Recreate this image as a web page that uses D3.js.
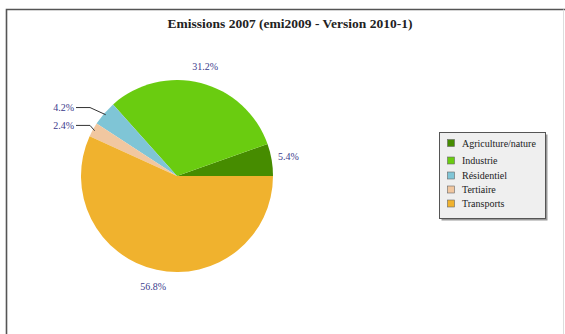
<!DOCTYPE html>
<html>
<head>
<meta charset="utf-8">
<script src="https://cdn.jsdelivr.net/npm/d3@7"></script>
<style>
  html, body { margin: 0; padding: 0; background: #fff; }
  svg { display: block; }
</style>
</head>
<body>
<svg id="chart" width="565" height="334"></svg>
<script>
// Emission shares by sector, 2007
const categories = ["Agriculture/nature", "Industrie", "Résidentiel", "Tertiaire", "Transports"];
const shares = [5.4, 31.2, 4.2, 2.4, 56.8];
const colors = ["#468c00", "#6acc10", "#7fc5d6", "#f1c7a0", "#f0b22e"];
const titleText = "Emissions 2007 (emi2009 - Version 2010-1)";

const svg = d3.select("#chart");
const W = 565, H = 334;
const cx = 177, cy = 176, r = 96;
const serif = "'Liberation Serif', 'DejaVu Serif', serif";

// outer frame
svg.append("path")
  .attr("d", `M6.5,${H} L6.5,9.5 L${W},9.5`)
  .attr("fill", "none").attr("stroke", "#555").attr("stroke-width", 1.6);
svg.append("line")
  .attr("x1", 563.5).attr("x2", 563.5).attr("y1", 9.5).attr("y2", H)
  .attr("stroke", "#ddd").attr("stroke-width", 1);

// title
svg.append("text")
  .attr("x", 290).attr("y", 28)
  .attr("text-anchor", "middle")
  .attr("font-family", serif).attr("font-weight", "bold").attr("font-size", 13.5)
  .attr("fill", "#222")
  .text(titleText);

// pie: starts at 3 o'clock and runs counter-clockwise
const data = categories.map((c, i) => ({ name: c, value: shares[i], color: colors[i] }));
const pie = d3.pie().value(d => d.value).sort(null)
  .startAngle(Math.PI / 2).endAngle(Math.PI / 2 - 2 * Math.PI);
const arcs = pie(data);
const arc = d3.arc().innerRadius(0).outerRadius(r);

const g = svg.append("g").attr("transform", `translate(${cx},${cy})`);
g.selectAll("path.slice").data(arcs).join("path")
  .attr("class", "slice")
  .attr("d", arc)
  .attr("fill", d => d.data.color);

// labels
const fmt = v => v.toFixed(1) + "%";
const labelColor = "#3a3a8c";
const small = new Set(["Résidentiel", "Tertiaire"]);
arcs.forEach(a => {
  const mid = (a.startAngle + a.endAngle) / 2;
  const pt = rad => [Math.sin(mid) * rad, -Math.cos(mid) * rad];
  if (!small.has(a.data.name)) {
    const [x, y] = pt(r + 17);
    g.append("text")
      .attr("x", x).attr("y", y).attr("dy", "0.35em")
      .attr("text-anchor", "middle")
      .attr("font-family", serif).attr("font-size", 10)
      .attr("fill", labelColor)
      .text(fmt(a.data.value));
  } else {
    const p0 = pt(r - 2);
    const p1 = pt(r + 9);
    const endX = -r - 5;
    const elbow = [endX + 14, p1[1]];
    g.append("polyline")
      .attr("points", [p0, elbow, [endX, p1[1]]].map(p => p.join(",")).join(" "))
      .attr("fill", "none").attr("stroke", "#333").attr("stroke-width", 1);
    g.append("text")
      .attr("x", endX - 2).attr("y", p1[1]).attr("dy", "0.35em")
      .attr("text-anchor", "end")
      .attr("font-family", serif).attr("font-size", 10)
      .attr("fill", labelColor)
      .text(fmt(a.data.value));
  }
});

// legend
const lx = 439.5, ly = 132.5, lw = 106, lh = 86;
svg.append("rect")
  .attr("x", lx + 2).attr("y", ly + 2).attr("width", lw).attr("height", lh)
  .attr("fill", "#999");
svg.append("rect")
  .attr("x", lx).attr("y", ly).attr("width", lw).attr("height", lh)
  .attr("fill", "#efefef").attr("stroke", "#555").attr("stroke-width", 1);
const rowY = [143, 160.5, 175.5, 189.5, 203.5];
const lg = svg.append("g");
data.forEach((d, i) => {
  lg.append("rect")
    .attr("x", 447.5).attr("y", rowY[i] - 3.5).attr("width", 7).attr("height", 7)
    .attr("fill", d.color).attr("stroke", "#666").attr("stroke-width", 0.6);
  lg.append("text")
    .attr("x", 462).attr("y", rowY[i]).attr("dy", "0.35em")
    .attr("font-family", serif).attr("font-size", 10)
    .attr("fill", "#222")
    .text(d.name);
});
</script>
</body>
</html>
